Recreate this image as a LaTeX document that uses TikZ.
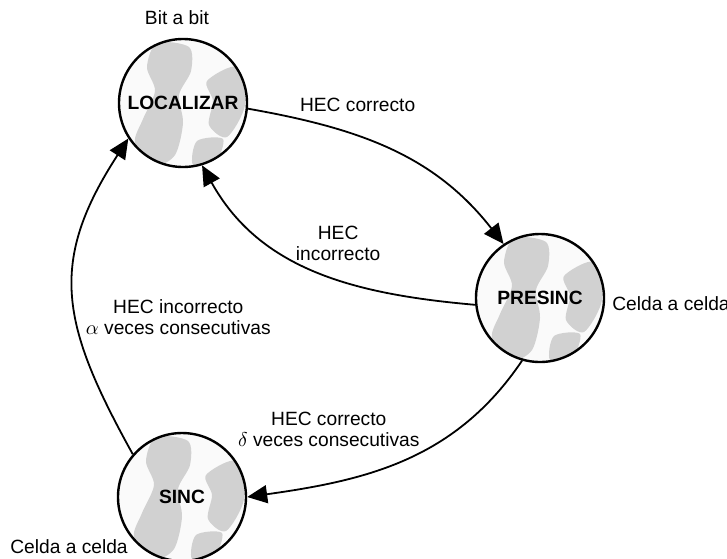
\documentclass[tikz,border=0pt]{standalone}
\usepackage{fontspec}
\setmainfont{Liberation Sans}
\usetikzlibrary{positioning, arrows.meta, backgrounds}

\begin{document}
\begin{tikzpicture}[
  x=0.5pt, y=0.5pt,
  font=\fontsize{9.6}{10.5}\selectfont,
  state/.style={circle, draw, line width=1.2pt, minimum size=64pt, inner sep=0pt,
    font=\fontsize{9.6}{10.5}\selectfont\bfseries},
  trans/.style={-{Triangle[length=10pt, width=9pt]}, line width=0.9pt},
  lbl/.style={align=center}
]
\useasboundingbox (0,0) rectangle (727,-558);

% -------------------------
% STATES
% -------------------------

\node[state] (loc) at (183,-103) {LOCALIZAR};
\node[state] (pre) at (540,-298) {PRESINC};
\node[state] (sinc) at (182,-497) {SINC};

\node[above=3pt of loc, xshift=-3pt] (bit) {Bit a bit};
\node[right=0pt of pre, yshift=-3pt] (celdapre) {Celda a celda};
\node (celdasinc) at (69,-547) {Celda a celda};

% shading of the states (behind)
\begin{scope}[on background layer]
  \foreach \s in {loc, pre, sinc} {
    \fill[black!2] (\s) circle[radius=32pt];
    \begin{scope}
      \clip (\s) circle[radius=32pt];
      \fill[black!18, shift={(\s)}]
        plot[smooth cycle] coordinates {(-13pt,30pt) (3pt,28pt) (4pt,16pt) (-2pt,4pt)
          (0pt,-10pt) (-4pt,-26pt) (-14pt,-31pt) (-24pt,-20pt) (-20pt,-8pt)
          (-14pt,6pt) (-18pt,18pt)}
        plot[smooth cycle] coordinates {(12pt,11pt) (27pt,18pt) (31pt,-1pt)
          (22pt,-17pt) (13pt,-11pt) (15pt,1pt)}
        plot[smooth cycle] coordinates {(7pt,-19pt) (20pt,-18pt) (16pt,-30pt) (5pt,-31pt)};
    \end{scope}
  }
\end{scope}

% -------------------------
% TRANSITIONS
% -------------------------

\draw[trans] (loc.-5) to[out=-10, in=128]
  node[lbl, pos=0.35, above=7.6pt, xshift=2.5pt] {HEC correcto} (pre.124);

\draw[trans] (pre.186) to[out=175, in=-61]
  node[lbl, pos=0.4, above=6.4pt, xshift=-3pt] {HEC\\incorrecto} (loc.-73);

\draw[trans] (sinc.139) to[out=119, in=-123, looseness=1.2]
  node[lbl, pos=0.42, right=1.3pt] {HEC incorrecto\\$\alpha$ veces consecutivas} (loc.213);

\draw[trans] (pre.-106) to[out=236, in=8]
  node[lbl, pos=0.75, above=14pt, xshift=-1pt] {HEC correcto\\$\delta$ veces consecutivas} (sinc.0);

\end{tikzpicture}
\end{document}
